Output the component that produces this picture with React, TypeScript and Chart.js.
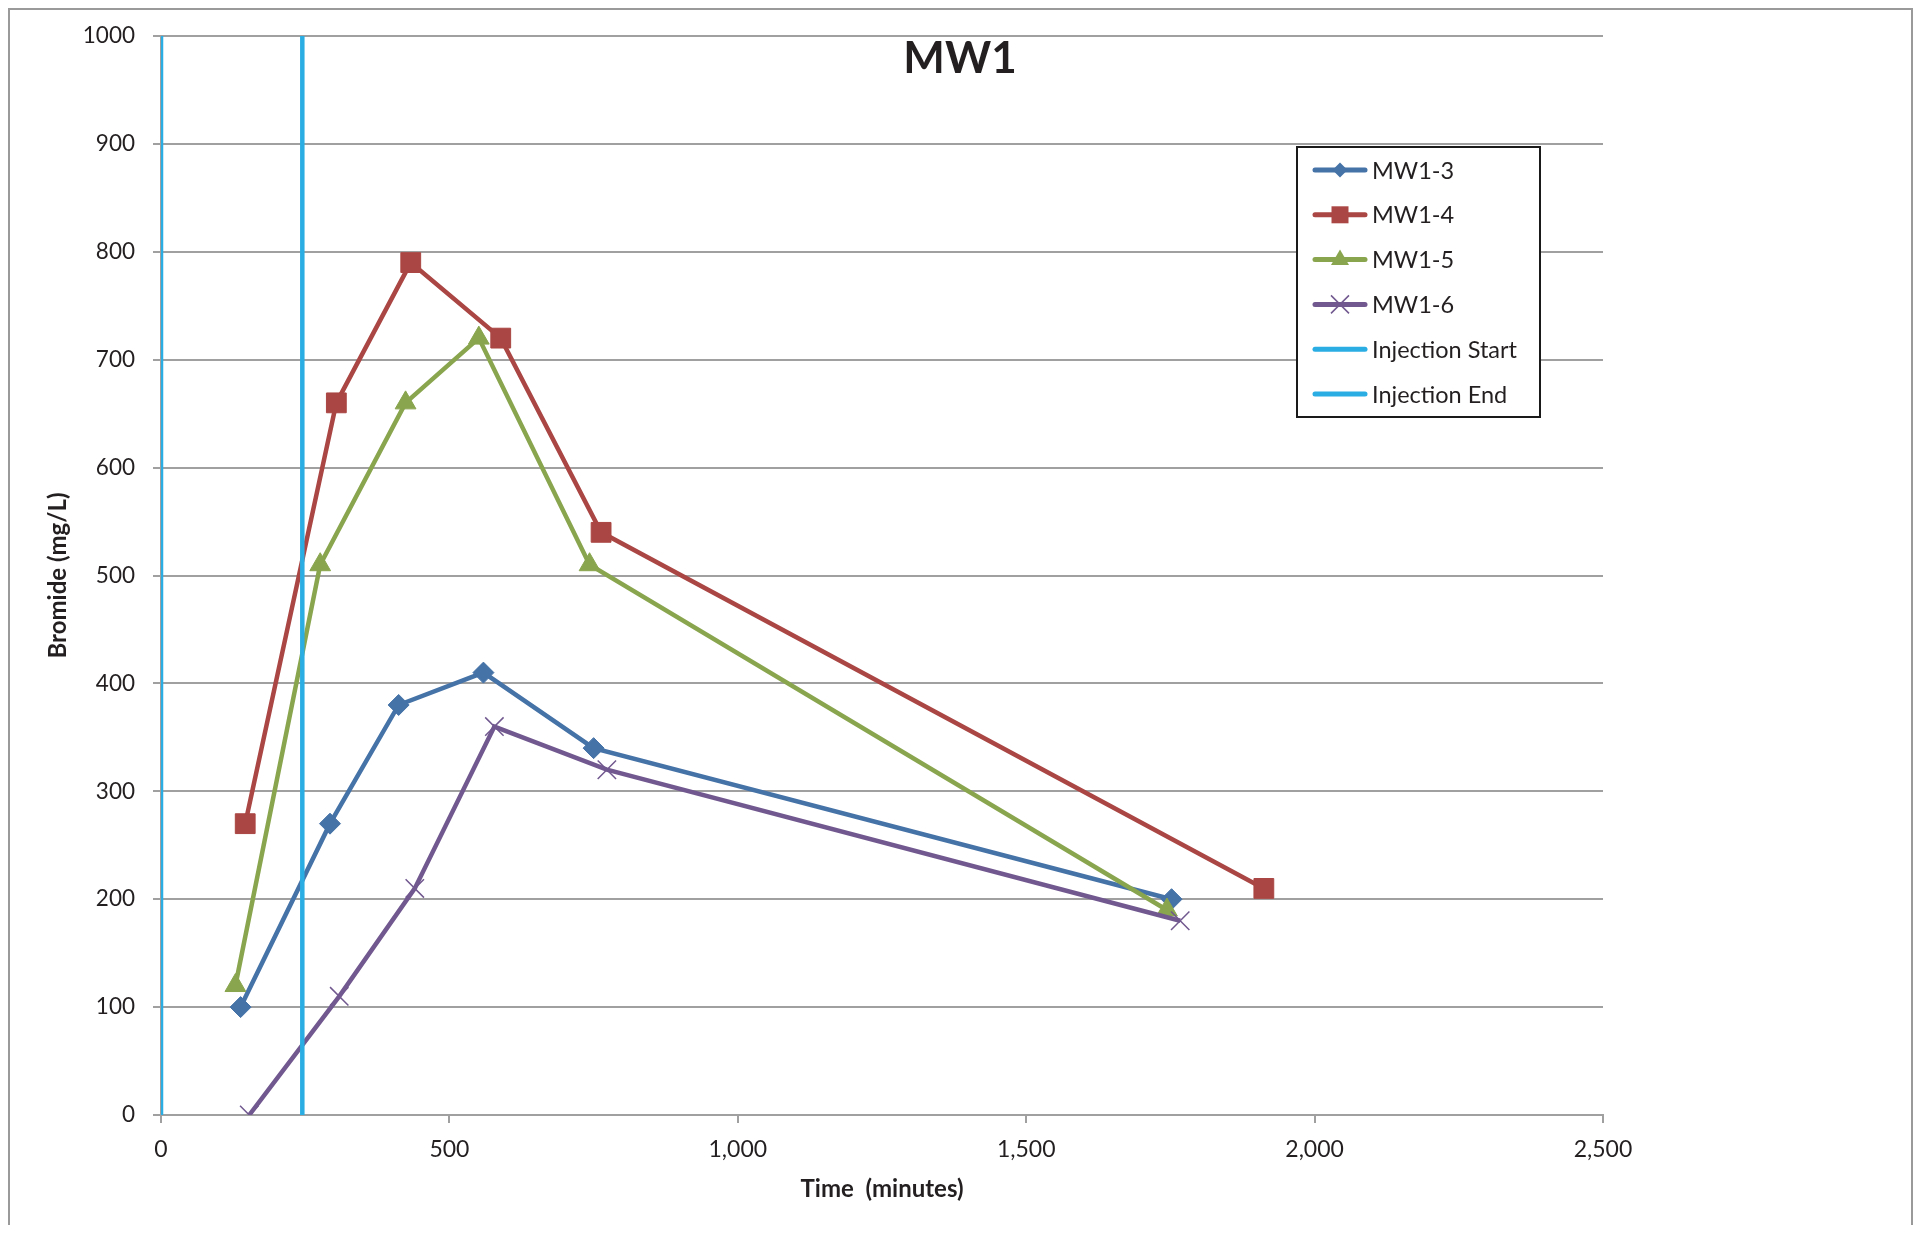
import React, { useEffect, useRef } from 'react';
import { Chart, registerables } from 'chart.js';

Chart.register(...registerables);

const FONT = 'Lato, "Open Sans", "DejaVu Sans", sans-serif';
const TEXT_COLOR = '#231F20';
const GRID_COLOR = '#A0A0A0';

// ---- data ----
const chartTitle = 'MW1';
const xAxisTitle = 'Time  (minutes)';
const yAxisTitle = 'Bromide (mg/L)';

const xMin = 0;
const xMax = 2500;
const xStep = 500;
const yMin = 0;
const yMax = 1000;
const yStep = 100;

const mw13Time = [138, 293, 412, 559, 750, 1752];
const mw13Bromide = [100, 270, 380, 410, 340, 200];

const mw14Time = [146, 304, 433, 589, 763, 1912];
const mw14Bromide = [270, 660, 790, 720, 540, 210];

const mw15Time = [129, 276, 424, 551, 743, 1744];
const mw15Bromide = [120, 510, 660, 720, 510, 190];

const mw16Time = [153, 309, 440, 578, 773, 1767];
const mw16Bromide = [0, 110, 210, 360, 320, 180];

const injectionStartTime = 0;
const injectionEndTime = 245;

const seriesNames = ['MW1-3', 'MW1-4', 'MW1-5', 'MW1-6'];
const seriesTimes = [mw13Time, mw14Time, mw15Time, mw16Time];
const seriesValues = [mw13Bromide, mw14Bromide, mw15Bromide, mw16Bromide];
const seriesColors = ['#4572A7', '#AA4643', '#89A54E', '#71588F'];
const seriesStyles = ['rectRot', 'rect', 'triangle', 'crossRot'];
const seriesRadius = [10.5, 14, 12, 13];

const injectionNames = ['Injection Start', 'Injection End'];
const injectionTimes = [injectionStartTime, injectionEndTime];
const injectionColor = '#2AADE3';

const legendNames = [...seriesNames, ...injectionNames];

function drawLegendMarker(ctx: CanvasRenderingContext2D, style: string, x: number, y: number, color: string) {
  ctx.save();
  ctx.fillStyle = color;
  ctx.strokeStyle = color;
  ctx.beginPath();
  if (style === 'rectRot') {
    const r = 7.5;
    ctx.moveTo(x - r, y);
    ctx.lineTo(x, y - r);
    ctx.lineTo(x + r, y);
    ctx.lineTo(x, y + r);
    ctx.closePath();
    ctx.fill();
  } else if (style === 'rect') {
    ctx.rect(x - 8.5, y - 8.5, 17, 17);
    ctx.fill();
  } else if (style === 'triangle') {
    ctx.moveTo(x, y - 10);
    ctx.lineTo(x + 9, y + 5.5);
    ctx.lineTo(x - 9, y + 5.5);
    ctx.closePath();
    ctx.fill();
  } else if (style === 'crossRot') {
    const r = 9;
    ctx.lineWidth = 1.5;
    ctx.moveTo(x - r, y - r);
    ctx.lineTo(x + r, y + r);
    ctx.moveTo(x + r, y - r);
    ctx.lineTo(x - r, y + r);
    ctx.stroke();
  }
  ctx.restore();
}

const overlayPlugin = {
  id: 'overlay',
  afterDraw(chart: any) {
    const ctx: CanvasRenderingContext2D = chart.ctx;
    ctx.save();
    // title
    ctx.font = `bold 44px ${FONT}`;
    ctx.fillStyle = TEXT_COLOR;
    ctx.textAlign = 'center';
    ctx.textBaseline = 'alphabetic';
    ctx.fillText(chartTitle, 950, 63);

    // legend
    const bx = 1287, by = 137, bw = 243, bh = 270;
    ctx.fillStyle = '#FFFFFF';
    ctx.fillRect(bx, by, bw, bh);
    ctx.lineWidth = 2;
    ctx.strokeStyle = '#1A1A1A';
    ctx.strokeRect(bx, by, bw, bh);

    const colors = [...seriesColors, injectionColor, injectionColor];
    const styles = [...seriesStyles, 'none', 'none'];
    legendNames.forEach((name, i) => {
      const ly = 160 + i * 44.8;
      ctx.save();
      ctx.strokeStyle = colors[i];
      ctx.lineWidth = 5;
      ctx.lineCap = 'round';
      ctx.beginPath();
      ctx.moveTo(1305, ly);
      ctx.lineTo(1355, ly);
      ctx.stroke();
      ctx.restore();
      drawLegendMarker(ctx, styles[i], 1330, ly, colors[i]);
      ctx.font = `23.5px ${FONT}`;
      ctx.fillStyle = TEXT_COLOR;
      ctx.textAlign = 'left';
      ctx.textBaseline = 'alphabetic';
      ctx.fillText(name, 1362, ly + 8.5);
    });
    ctx.restore();
  },
};

export default function App() {
  const canvasRef = useRef<HTMLCanvasElement | null>(null);

  useEffect(() => {
    if (!canvasRef.current) return;
    const seriesDatasets = seriesNames.map((name, i) => ({
      label: name,
      data: seriesTimes[i].map((t, j) => ({ x: t, y: seriesValues[i][j] })),
      borderColor: seriesColors[i],
      backgroundColor: seriesColors[i],
      borderWidth: 4.5,
      pointStyle: seriesStyles[i],
      pointRadius: seriesRadius[i],
      pointBorderWidth: seriesStyles[i] === 'crossRot' ? 1.5 : 1,
      pointBackgroundColor: seriesColors[i],
      pointBorderColor: seriesColors[i],
      tension: 0,
      fill: false,
      order: 4 - i,
    }));
    const injectionDatasets = injectionNames.map((name, i) => ({
      label: name,
      data: [
        { x: injectionTimes[i], y: yMin },
        { x: injectionTimes[i], y: yMax },
      ],
      borderColor: injectionColor,
      backgroundColor: injectionColor,
      borderWidth: 4.5,
      pointRadius: 0,
      tension: 0,
      fill: false,
      order: 0,
      clip: { left: 0, top: 0, right: 0, bottom: 0 },
    }));

    const chart = new Chart(canvasRef.current, {
      type: 'line',
      data: { datasets: [...seriesDatasets, ...injectionDatasets] as any },
      options: {
        responsive: false,
        animation: false,
        devicePixelRatio: 1,
        layout: {
          autoPadding: false,
          padding: { left: 0, right: 308, top: 26, bottom: 6 },
        },
        plugins: {
          legend: { display: false },
          tooltip: { enabled: false },
          title: { display: false },
        },
        scales: {
          x: {
            type: 'linear',
            min: xMin,
            max: xMax,
            ticks: {
              stepSize: xStep,
              maxRotation: 0,
              padding: 13,
              color: TEXT_COLOR,
              font: { family: FONT, size: 23 },
              callback: (v: any) => Number(v).toLocaleString('en-US'),
            },
            grid: {
              drawOnChartArea: false,
              drawTicks: true,
              tickLength: 8,
              color: GRID_COLOR,
              lineWidth: 2,
            },
            border: { display: true, color: GRID_COLOR, width: 2 },
            title: {
              display: true,
              text: xAxisTitle,
              color: TEXT_COLOR,
              font: { family: FONT, size: 24, weight: 'bold' },
              padding: { top: 0, bottom: 15 },
            },
            afterFit: (s: any) => {
              s.height = 104;
            },
          },
          y: {
            type: 'linear',
            min: yMin,
            max: yMax,
            ticks: {
              stepSize: yStep,
              padding: 18,
              color: TEXT_COLOR,
              font: { family: FONT, size: 22.5, lineHeight: 0.2 },
              callback: (v: any) => String(v),
            },
            grid: {
              drawTicks: true,
              tickLength: 8,
              color: GRID_COLOR,
              lineWidth: 2,
            },
            border: { display: true, color: GRID_COLOR, width: 2 },
            title: {
              display: true,
              text: yAxisTitle,
              color: TEXT_COLOR,
              font: { family: FONT, size: 24, weight: 'bold' },
              padding: { top: 34, bottom: 0 },
            },
            afterFit: (s: any) => {
              s.width = 151;
            },
          },
        },
      } as any,
      plugins: [overlayPlugin],
    });
    return () => chart.destroy();
  }, []);

  return (
    <div
      style={{
        width: 1901,
        height: 1215,
        borderTop: '2px solid #9A9A9A',
        borderLeft: '2px solid #9A9A9A',
        borderRight: '2px solid #9A9A9A',
        background: '#FFFFFF',
      }}
    >
      <canvas ref={canvasRef} width={1901} height={1215} style={{ display: 'block' }} />
    </div>
  );
}
